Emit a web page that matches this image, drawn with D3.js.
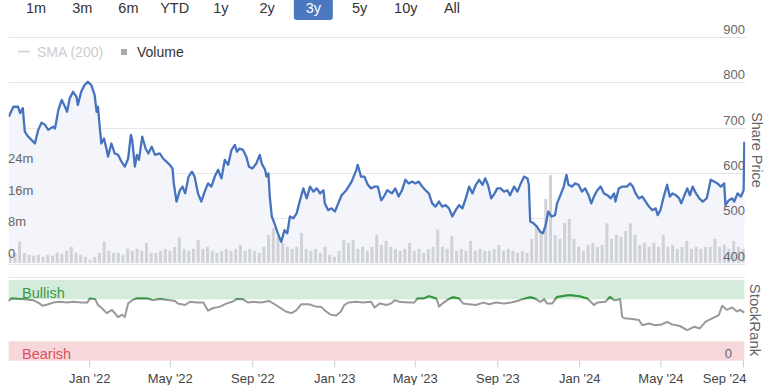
<!DOCTYPE html>
<html><head><meta charset="utf-8">
<script src="https://cdn.jsdelivr.net/npm/d3@7"></script>
<style>
body{margin:0;background:#fff;}
svg{display:block;font-family:"Liberation Sans",Arial,Helvetica,sans-serif;}
</style>
</head><body>
<svg id="chart" width="768" height="385"></svg>
<script>
// ---------- data ----------
const rangeButtons = ["1m","3m","6m","YTD","1y","2y","3y","5y","10y","All"];
const selectedRange = "3y";
const priceTicks = [400,500,600,700,800,900];
const volumeTicks = [0,8,16,24];           // millions
const volumeTickLabels = ["0","8m","16m","24m"];
const dateTicks = ["2022-01-01","2022-05-01","2022-09-01","2023-01-01","2023-05-01","2023-09-01","2024-01-01","2024-05-01","2024-09-01"];
const chartStart = "2021-09-03", chartEnd = "2024-09-03";

const priceDates = [
"2021-09-03","2021-09-10","2021-09-17","2021-09-20","2021-09-24","2021-09-27","2021-10-02","2021-10-07","2021-10-12","2021-10-17","2021-10-22","2021-10-27","2021-11-01","2021-11-08","2021-11-11","2021-11-16","2021-11-21","2021-11-26","2021-11-29","2021-12-03","2021-12-08","2021-12-13","2021-12-15","2021-12-20","2021-12-25","2021-12-30",
"2022-01-04","2022-01-09","2022-01-12","2022-01-14","2022-01-17","2022-01-19","2022-01-23","2022-01-27","2022-01-29","2022-02-03","2022-02-08","2022-02-13","2022-02-18","2022-02-23","2022-02-28","2022-03-04","2022-03-06","2022-03-10","2022-03-13","2022-03-16","2022-03-21","2022-03-26","2022-03-30","2022-04-04","2022-04-09","2022-04-16","2022-04-21","2022-04-26","2022-05-01","2022-05-05","2022-05-07","2022-05-11","2022-05-16","2022-05-20","2022-05-24","2022-05-29","2022-06-03","2022-06-07","2022-06-12","2022-06-17","2022-06-22","2022-06-27","2022-07-02","2022-07-07","2022-07-12","2022-07-17","2022-07-22","2022-07-27","2022-08-01","2022-08-06","2022-08-09","2022-08-13","2022-08-18","2022-08-23","2022-08-27","2022-09-01","2022-09-07","2022-09-12","2022-09-15","2022-09-20","2022-09-22","2022-09-25","2022-09-27","2022-09-30","2022-10-04","2022-10-09","2022-10-14","2022-10-19","2022-10-23","2022-10-27","2022-11-01","2022-11-06","2022-11-11","2022-11-16","2022-11-21","2022-11-26","2022-12-01","2022-12-06","2022-12-11","2022-12-16","2022-12-18","2022-12-23","2022-12-28",
"2023-01-02","2023-01-07","2023-01-12","2023-01-19","2023-01-27","2023-02-03","2023-02-05","2023-02-10","2023-02-15","2023-02-20","2023-02-25","2023-03-02","2023-03-07","2023-03-12","2023-03-16","2023-03-21","2023-03-28","2023-04-02","2023-04-07","2023-04-12","2023-04-17","2023-04-22","2023-04-27","2023-05-02","2023-05-07","2023-05-12","2023-05-17","2023-05-22","2023-05-27","2023-06-01","2023-06-06","2023-06-11","2023-06-16","2023-06-21","2023-06-26","2023-07-01","2023-07-06","2023-07-11","2023-07-16","2023-07-21","2023-07-26","2023-07-31","2023-08-05","2023-08-10","2023-08-14","2023-08-18","2023-08-23","2023-08-28","2023-09-01","2023-09-06","2023-09-11","2023-09-16","2023-09-20","2023-09-26","2023-10-01","2023-10-06","2023-10-11","2023-10-16","2023-10-18","2023-10-20","2023-10-25","2023-10-30","2023-11-04","2023-11-08","2023-11-12","2023-11-16","2023-11-21","2023-11-26","2023-11-29","2023-12-04","2023-12-09","2023-12-13","2023-12-16","2023-12-21","2023-12-26","2023-12-31",
"2024-01-05","2024-01-10","2024-01-15","2024-01-19","2024-01-23","2024-01-28","2024-02-02","2024-02-07","2024-02-12","2024-02-17","2024-02-22","2024-02-24","2024-02-29","2024-03-05","2024-03-12","2024-03-17","2024-03-21","2024-03-25","2024-03-30","2024-04-04","2024-04-09","2024-04-14","2024-04-19","2024-04-24","2024-04-27","2024-05-01","2024-05-06","2024-05-11","2024-05-15","2024-05-19","2024-05-24","2024-05-29","2024-06-01","2024-06-05","2024-06-10","2024-06-14","2024-06-18","2024-06-23","2024-06-28","2024-07-03","2024-07-09","2024-07-15","2024-07-20","2024-07-25","2024-07-30","2024-08-04","2024-08-06","2024-08-11","2024-08-16","2024-08-19","2024-08-24","2024-08-29","2024-09-02","2024-09-03"];
const priceValues = [
724,746,746,732,743,691,680,673,665,695,711,706,695,702,698,739,761,746,735,765,779,768,750,779,794,801,
794,772,735,746,695,665,676,651,636,665,643,640,625,614,632,684,673,614,640,629,680,654,643,658,640,643,632,625,618,610,577,537,562,570,555,592,603,592,555,537,559,577,570,592,607,588,629,618,651,662,647,654,651,636,614,610,621,640,621,607,592,599,548,504,489,467,448,474,467,504,500,511,540,566,544,570,559,566,555,562,533,518,522,
515,533,551,562,581,607,618,592,592,574,566,570,570,540,548,562,555,566,548,562,585,577,581,577,581,570,562,555,533,526,537,526,529,522,504,518,529,522,544,570,555,574,585,574,588,574,544,555,566,566,559,562,551,570,559,577,592,588,574,493,489,482,470,467,485,515,504,507,533,551,570,596,574,570,577,574,
559,566,551,533,548,562,570,555,551,544,555,537,566,570,570,577,570,555,544,548,537,526,518,522,507,518,548,574,548,555,551,544,533,548,566,551,570,555,544,537,544,585,581,577,570,577,529,540,544,537,555,548,562,669];

// weekly volume (millions), one value per week from chartStart
const volumeWeekly = [
2,2.5,5.3,2.5,2,1.8,2,1.5,2,1.8, 2.5,2.2,3,4,2.5,2,1.5,0.8,1.5,2.5,
5.3,3,2.5,2.5,2,3.6,3,3.5,3,5, 2.5,2.5,3,3.5,3,4,6.3,3.5,3,3.5,
5.8,3.5,4,3,2.5,3,3.5,3,3.5,4.5, 3,3.5,3,2.5,4,7,8.7,6.5,5,4,
3.5,4,7.5,3.5,3,3.5,2.5,4,2,1.5, 3,5.8,5,5.8,3.5,4,3,4,7,4.5,
5.5,4,3.5,3,3.5,5,3,3.5,2.5,3.5, 4,8.3,4,3.5,6.8,3,3.5,3,5.5,3,
3.5,3,3,3.5,4.5,3,3.5,3,2.5,3, 2.5,6,9.5,8,16,22,7,6,10,11,
6,4,3,4.5,5,4,4.5,9.9,6,7, 6.5,8,9.9,7,4.5,5,4,5,4,7,
4,4.5,3.5,4,5.5,3.5,4,3.5,4,4, 6,4,4.5,3.5,5.5,4,3.5];

const rankDates = [
"2021-09-03","2021-09-07","2021-09-27","2021-10-09","2021-10-17","2021-10-24","2021-11-01","2021-11-08","2021-11-18","2021-11-29","2021-12-08","2021-12-21","2021-12-29",
"2022-01-02","2022-01-10","2022-01-14","2022-01-20","2022-01-27","2022-02-04","2022-02-08","2022-02-13","2022-02-19","2022-02-23","2022-02-28","2022-03-06","2022-03-13","2022-03-28","2022-04-06","2022-04-16","2022-05-01","2022-05-09","2022-05-13","2022-05-24","2022-05-31","2022-06-11","2022-06-20","2022-06-27","2022-07-04","2022-07-15","2022-07-25","2022-08-02","2022-08-09","2022-08-18","2022-08-26","2022-09-02","2022-09-14","2022-09-26","2022-10-06","2022-10-21","2022-10-29","2022-11-05","2022-11-13","2022-11-24","2022-12-05","2022-12-12","2022-12-20","2022-12-27",
"2023-01-04","2023-01-11","2023-01-16","2023-01-22","2023-02-03","2023-02-13","2023-02-25","2023-03-02","2023-03-10","2023-03-20","2023-03-27","2023-04-01","2023-04-08","2023-04-21","2023-04-30","2023-05-05","2023-05-14","2023-05-22","2023-06-02","2023-06-05","2023-06-06","2023-06-13","2023-06-20","2023-06-27","2023-07-06","2023-07-12","2023-07-21","2023-07-31","2023-08-11","2023-08-20","2023-08-30","2023-09-11","2023-09-21","2023-10-01","2023-10-08","2023-10-20","2023-10-27","2023-11-04","2023-11-10","2023-11-14","2023-11-22","2023-11-29","2023-12-17",
"2024-01-01","2024-01-13","2024-01-17","2024-01-23","2024-01-28","2024-02-09","2024-02-16","2024-02-22","2024-03-02","2024-03-05","2024-03-09","2024-03-20","2024-03-30","2024-04-04","2024-04-14","2024-04-23","2024-05-03","2024-05-11","2024-05-18","2024-05-30","2024-06-10","2024-06-20","2024-06-29","2024-07-07","2024-07-17","2024-07-27","2024-08-01","2024-08-08","2024-08-16","2024-08-23","2024-08-28","2024-09-03"];
const rankValues = [
74,77,76,75,72,68,70,72,73,72,73,72,72,77,76,69,65,59,63,59,
54,57,54,71,75,77,77,75,76.5,75,74,71,69,73,72,72,62,65,67,71,
73,76.5,76,72,73,72,74,69,61,59,62,70,70,67,67,61,57,56,61,69,
72,73,72,73,66,71,69,71,75,73,72,72,77,77,80,77,71,67,72,76,
78.6,77,71,70,69,72,70,72,71,72,74,76,78.6,77,73,76,71,71,79,81.4,
80,77,74,69,72,73,79,75,76,54.5,52.5,51.7,50.4,44,46,44,45,48,45,43,
38,42,40,48,52.5,56.6,68,63,66,61,63,59.5];
const rankBands = [{name:"Bullish", from:76, to:100}, {name:"Bearish", from:0, to:24}];
const rankTicks = [0];

// ---------- layout ----------
const parse = d3.utcParse("%Y-%m-%d");
const L = 8.7, R = 744.3;
const svg = d3.select("#chart");

const x = d3.scaleUtc().domain([parse(chartStart), parse(chartEnd)]).range([L, R]);
const yPrice = d3.scaleLinear().domain([400, 900]).range([263.7, 36.9]);
const yVol = d3.scaleLinear().domain([0, 24]).range([262.8, 167.2]);
const yRank = d3.scaleLinear().domain([0, 100]).range([360.7, 280]);

const price = priceDates.map((d,i)=>({date:parse(d), v:priceValues[i]}));
const rank = rankDates.map((d,i)=>({date:parse(d), v:rankValues[i]}));
const volume = volumeWeekly.map((v,i)=>({date:d3.utcWeek.offset(parse(chartStart), i), v}));

// ---------- range selector ----------
const bx = d3.scalePoint().domain(rangeButtons).range([36, 452]);
const btn = svg.append("g");
btn.selectAll("rect").data(rangeButtons.filter(b=>b===selectedRange)).join("rect")
  .attr("x", d=>bx(d)-19.5).attr("y", -4).attr("width", 39).attr("height", 24)
  .attr("rx", 3).attr("fill", "#4a77be");
btn.selectAll("text").data(rangeButtons).join("text")
  .attr("x", d=>bx(d)).attr("y", 12.5).attr("text-anchor","middle")
  .attr("font-size", 14.5).attr("fill", d=>d===selectedRange?"#fff":"#333").text(d=>d);

// ---------- legend ----------
const lg = svg.append("g");
lg.append("line").attr("x1",18).attr("x2",30).attr("y1",51.5).attr("y2",51.5).attr("stroke","#ccc").attr("stroke-width",1.5);
lg.append("text").attr("x",37).attr("y",57).attr("font-size",14).attr("fill","#ccc").text("SMA (200)");
lg.append("rect").attr("x",121).attr("y",49).attr("width",6).attr("height",6).attr("fill","#aaa");
lg.append("text").attr("x",137).attr("y",57).attr("font-size",14).attr("fill","#333").text("Volume");

// ---------- price grid ----------
svg.append("g").selectAll("line").data(priceTicks).join("line")
  .attr("x1", L).attr("x2", 745.5).attr("y1", d=>Math.round(yPrice(d))+0.5).attr("y2", d=>Math.round(yPrice(d))+0.5)
  .attr("stroke", "#e6e6e6");

// area + volume + line
svg.append("clipPath").attr("id","pclip").append("rect")
  .attr("x", L).attr("y", 0).attr("width", R-L+1).attr("height", yPrice(400));
const pg = svg.append("g").attr("clip-path","url(#pclip)");
pg.append("path").datum(price)
  .attr("d", d3.area().x(d=>x(d.date)).y0(yPrice(400)).y1(d=>yPrice(d.v)))
  .attr("fill", "#f3f5fb");
pg.append("g").selectAll("rect").data(volume).join("rect")
  .attr("x", d=>x(d.date)).attr("width", 3)
  .attr("y", d=>yVol(d.v)).attr("height", d=>yVol(0)-yVol(d.v))
  .attr("fill", "#d0d2d8");
pg.append("path").datum(price)
  .attr("d", d3.line().x(d=>x(d.date)).y(d=>yPrice(d.v)))
  .attr("fill","none").attr("stroke","#4673be").attr("stroke-width",2.3).attr("stroke-linejoin","round");

// price labels
svg.append("g").selectAll("text").data(priceTicks).join("text")
  .attr("x", 745).attr("y", d=>yPrice(d)-3).attr("text-anchor","end")
  .attr("font-size",13).attr("fill","#666").text(d=>d);
// volume labels
svg.append("g").selectAll("text").data(volumeTicks).join("text")
  .attr("x", 8).attr("y", d=>yVol(d)-4.5)
  .attr("font-size",13).attr("fill","#666").text((d,i)=>volumeTickLabels[i]);

svg.append("text").attr("transform","translate(751.5,150) rotate(90)")
  .attr("text-anchor","middle").attr("font-size",14.5).attr("fill","#666").text("Share Price");

// ---------- StockRank pane ----------
svg.append("line").attr("x1",L).attr("x2",745.5).attr("y1",277.5).attr("y2",277.5).attr("stroke","#e6e6e6");
svg.append("g").selectAll("rect").data(rankBands).join("rect")
  .attr("x", L).attr("width", R-L).attr("y", d=>yRank(d.to)).attr("height", d=>yRank(d.from)-yRank(d.to))
  .attr("fill", d=>d.name==="Bullish"?"#d5ebdb":"#f6d8db");
svg.append("text").attr("x",22).attr("y",298).attr("font-size",14.5).attr("fill","#3d9a45").text("Bullish");
svg.append("text").attr("x",22).attr("y",358.5).attr("font-size",14.5).attr("fill","#e0505e").text("Bearish");
svg.append("g").selectAll("text").data(rankTicks).join("text")
  .attr("x",732).attr("y",d=>yRank(d)-2.5).attr("text-anchor","end")
  .attr("font-size",13).attr("fill","#666").text(d=>d);

const rline = d3.line().x(d=>x(d.date)).y(d=>yRank(d.v));
svg.append("path").datum(rank).attr("d", rline)
  .attr("fill","none").attr("stroke","#999").attr("stroke-width",2).attr("stroke-linejoin","round");
svg.append("clipPath").attr("id","bull").append("rect")
  .attr("x",L).attr("y",0).attr("width",R-L+2).attr("height",yRank(rankBands[0].from));
svg.append("path").datum(rank).attr("d", rline).attr("clip-path","url(#bull)")
  .attr("fill","none").attr("stroke","#2d9a3c").attr("stroke-width",2).attr("stroke-linejoin","round");

svg.append("text").attr("transform","translate(750,320) rotate(90)")
  .attr("text-anchor","middle").attr("font-size",15).attr("fill","#666").text("StockRank");

// ---------- x axis ----------
const fmt = d3.utcFormat("%b '%y");
const xa = svg.append("g").attr("transform", `translate(0,${yRank(0)})`)
  .call(d3.axisBottom(x).tickValues(dateTicks.map(parse)).tickFormat(fmt).tickSize(7).tickPadding(6));
xa.select(".domain").remove();
xa.selectAll(".tick line").attr("stroke","#ccd0d8");
xa.selectAll(".tick text").attr("font-size",13).attr("fill","#444")
  .attr("font-family","Liberation Sans, Arial, sans-serif")
  .each(function(){
    const b = this.getBBox(); const t = d3.select(this.parentNode).attr("transform");
    const tx = +t.match(/translate\(([-\d.]+)/)[1];
    if (tx + b.x + b.width > 746.5) d3.select(this).attr("dx", 746.5 - (tx + b.x + b.width));
  });
</script>
</body></html>
